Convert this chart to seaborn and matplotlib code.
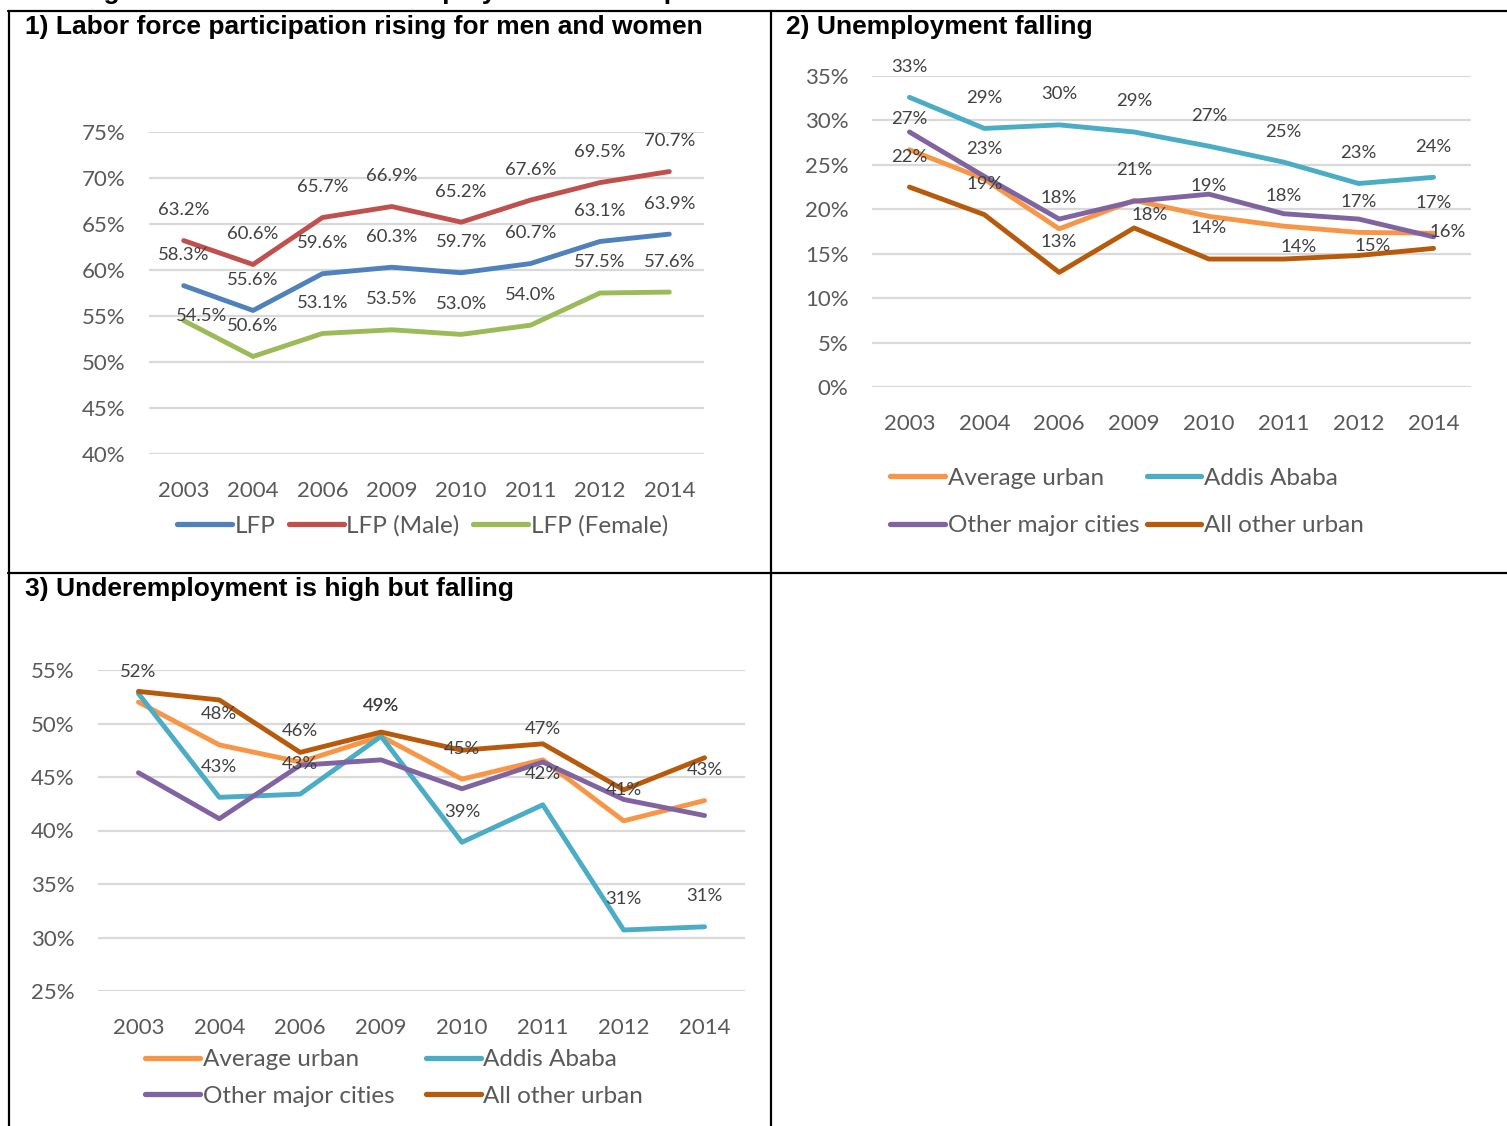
import numpy as np
import pandas as pd
import matplotlib
matplotlib.use("Agg")
import matplotlib.pyplot as plt
from matplotlib.lines import Line2D
from matplotlib.ticker import PercentFormatter, MultipleLocator
import seaborn as sns

# ---------------------------------------------------------------- data
years = ["2003", "2004", "2006", "2009", "2010", "2011", "2012", "2014"]

# 1) labor force participation (%)
lfp_total = [58.3, 55.6, 59.6, 60.3, 59.7, 60.7, 63.1, 63.9]
lfp_male = [63.2, 60.6, 65.7, 66.9, 65.2, 67.6, 69.5, 70.7]
lfp_female = [54.5, 50.6, 53.1, 53.5, 53.0, 54.0, 57.5, 57.6]
lfp_names = ["LFP", "LFP (Male)", "LFP (Female)"]

# 2) unemployment rate (%)
unemp_avg = [26.7, 23.4, 17.8, 21.0, 19.2, 18.1, 17.4, 17.3]
unemp_addis = [32.6, 29.1, 29.5, 28.7, 27.1, 25.3, 22.9, 23.6]
unemp_major = [28.7, 23.7, 18.9, 20.9, 21.7, 19.5, 18.9, 16.9]
unemp_rest = [22.5, 19.4, 12.9, 17.9, 14.4, 14.4, 14.8, 15.6]

# 3) underemployment rate (%)
under_avg = [52.0, 48.0, 46.4, 48.8, 44.8, 46.6, 40.9, 42.8]
under_addis = [52.8, 43.1, 43.4, 48.8, 38.9, 42.4, 30.7, 31.0]
under_major = [45.4, 41.1, 46.1, 46.6, 43.9, 46.4, 42.9, 41.4]
under_rest = [53.0, 52.2, 47.3, 49.2, 47.5, 48.1, 43.8, 46.8]

area_names = ["Average urban", "Addis Ababa", "Other major cities", "All other urban"]

# ---------------------------------------------------------------- style
sns.set_style("white")
plt.rcParams["font.family"] = ["Lato", "DejaVu Sans"]

W, H = 1507, 1126
fig = plt.figure(figsize=(W / 100, H / 100), dpi=100)

TICK_C = "#595959"
LABEL_C = "#404040"
GRID_C = "#D9D9D9"
lfp_colors = ["#4F81BD", "#C0504D", "#9BBB59"]
area_colors = ["#F79646", "#4BACC6", "#8064A2", "#B85A0B"]
LEG_FS = 17.5


def px_axes(left, top, right, bottom):
    return fig.add_axes([left / W, 1 - bottom / H, (right - left) / W, (bottom - top) / H])


def long_frame(series, names):
    rows = []
    for name, vals in zip(names, series):
        for i, v in enumerate(vals):
            rows.append({"pos": i, "year": years[i], "value": v, "series": name})
    return pd.DataFrame(rows)


def style_axes(ax, lo, hi):
    ax.set_xlim(-0.5, len(years) - 0.5)
    ax.set_ylim(lo, hi)
    ax.yaxis.set_major_locator(MultipleLocator(5))
    ax.yaxis.set_major_formatter(PercentFormatter(decimals=0))
    ax.set_xticks(range(len(years)))
    ax.set_xticklabels(years)
    ax.grid(axis="y", color=GRID_C, lw=1.6)
    ax.grid(axis="x", visible=False)
    ax.set_axisbelow(True)
    for s in ax.spines.values():
        s.set_visible(False)
    ax.tick_params(axis="both", length=0, labelsize=16, colors=TICK_C)
    ax.tick_params(axis="y", pad=17)
    ax.tick_params(axis="x", pad=19.5)
    ax.set_xlabel("")
    ax.set_ylabel("")
    ax.set_facecolor("none")


def add_labels(ax, vals, fmt, idx=None, shifted=None, size=13.3):
    """Value labels above each point; `shifted` maps index -> (dx, dy) in points."""
    idx = range(len(vals)) if idx is None else idx
    shifted = shifted or {}
    for i in idx:
        off = shifted.get(i, (0, 22))
        ax.annotate(fmt.format(vals[i]), (i, vals[i]), xytext=off,
                    textcoords="offset points", ha="center", va="center",
                    fontsize=size, color=LABEL_C)


def legend_handles(ax):
    h, l = ax.get_legend_handles_labels()
    for line in h:
        line.set_linewidth(3.8)
        line.set_solid_capstyle("round")
    return h, l


line_kw = dict(linewidth=3.5, solid_capstyle="round", solid_joinstyle="round")

# ---------------------------------------------------------------- panel 1
ax1 = px_axes(149, 132, 704, 454)
df1 = long_frame([lfp_total, lfp_male, lfp_female], lfp_names)
sns.lineplot(data=df1, x="pos", y="value", hue="series", hue_order=lfp_names,
             palette=lfp_colors, sort=False, ax=ax1, **line_kw)
style_axes(ax1, 40, 75)
add_labels(ax1, lfp_total, "{:.1f}%")
add_labels(ax1, lfp_male, "{:.1f}%")
add_labels(ax1, lfp_female, "{:.1f}%", shifted={0: (13, 3)})
h1, l1 = legend_handles(ax1)
ax1.legend(h1, l1, loc="center left", bbox_to_anchor=(177 / W, 1 - 526 / H),
           bbox_transform=fig.transFigure, ncol=3, frameon=False, fontsize=LEG_FS,
           labelcolor=TICK_C, handlelength=2.25, handletextpad=0.12,
           columnspacing=0.55, borderpad=0, borderaxespad=0)

# ---------------------------------------------------------------- panel 2
ax2 = px_axes(872, 76, 1471, 387)
df2 = long_frame([unemp_avg, unemp_addis, unemp_major, unemp_rest], area_names)
sns.lineplot(data=df2, x="pos", y="value", hue="series", hue_order=area_names,
             palette=area_colors, sort=False, ax=ax2, **line_kw)
style_axes(ax2, 0, 35)
add_labels(ax2, unemp_addis, "{:.0f}%")
add_labels(ax2, unemp_avg, "{:.0f}%")
add_labels(ax2, unemp_rest, "{:.0f}%",
           shifted={3: (11, 9), 5: (11, 9), 6: (10, 7), 7: (10, 12)})
h2, l2 = legend_handles(ax2)
order = [0, 2, 1, 3]
ax2.legend([h2[i] for i in order], [l2[i] for i in order], loc="center left",
           bbox_to_anchor=(890 / W, 1 - 502 / H), bbox_transform=fig.transFigure,
           ncol=2, frameon=False, fontsize=LEG_FS, labelcolor=TICK_C,
           handlelength=2.25, handletextpad=0.12, columnspacing=0.3,
           labelspacing=1.07, borderpad=0, borderaxespad=0)

# ---------------------------------------------------------------- panel 3
ax3 = px_axes(98, 670, 745, 991)
df3 = long_frame([under_avg, under_addis, under_major, under_rest], area_names)
sns.lineplot(data=df3, x="pos", y="value", hue="series", hue_order=area_names,
             palette=area_colors, sort=False, ax=ax3, **line_kw)
style_axes(ax3, 25, 55)
add_labels(ax3, under_avg, "{:.0f}%")
add_labels(ax3, under_addis, "{:.0f}%", idx=range(1, len(years)))
h3, l3 = legend_handles(ax3)
ax3.legend([h3[i] for i in order], [l3[i] for i in order], loc="center left",
           bbox_to_anchor=(145 / W, 1 - 1078 / H), bbox_transform=fig.transFigure,
           ncol=2, frameon=False, fontsize=LEG_FS, labelcolor=TICK_C,
           handlelength=2.25, handletextpad=0.12, columnspacing=1.3,
           labelspacing=0.62, borderpad=0, borderaxespad=0)

# ---------------------------------------------------------------- table frame + headings
head_font = ["Liberation Sans", "DejaVu Sans"]
title_kw = dict(fontsize=19, fontweight="bold", color="black", va="center", ha="left",
                family=head_font)
fig.text(25 / W, 1 - 27 / H, "1) Labor force participation rising for men and women", **title_kw)
fig.text(786 / W, 1 - 27 / H, "2) Unemployment falling", **title_kw)
fig.text(25 / W, 1 - 589 / H, "3) Underemployment is high but falling", **title_kw)
fig.text(80 / W, 1 + 1 / H, "Figure 3: Trends in urban employment in Ethiopia",
         fontsize=19, fontweight="bold", color="black", va="baseline", ha="left",
         family=head_font)


def frame_line(x0, y0, x1, y1):
    fig.add_artist(Line2D([x0 / W, x1 / W], [1 - y0 / H, 1 - y1 / H],
                          transform=fig.transFigure, color="black", lw=1.6))


frame_line(8, 11, W, 11)
frame_line(8, 573, W, 573)
frame_line(9, 11, 9, H)
frame_line(771, 11, 771, H)

fig.savefig("out.png", dpi=100)
